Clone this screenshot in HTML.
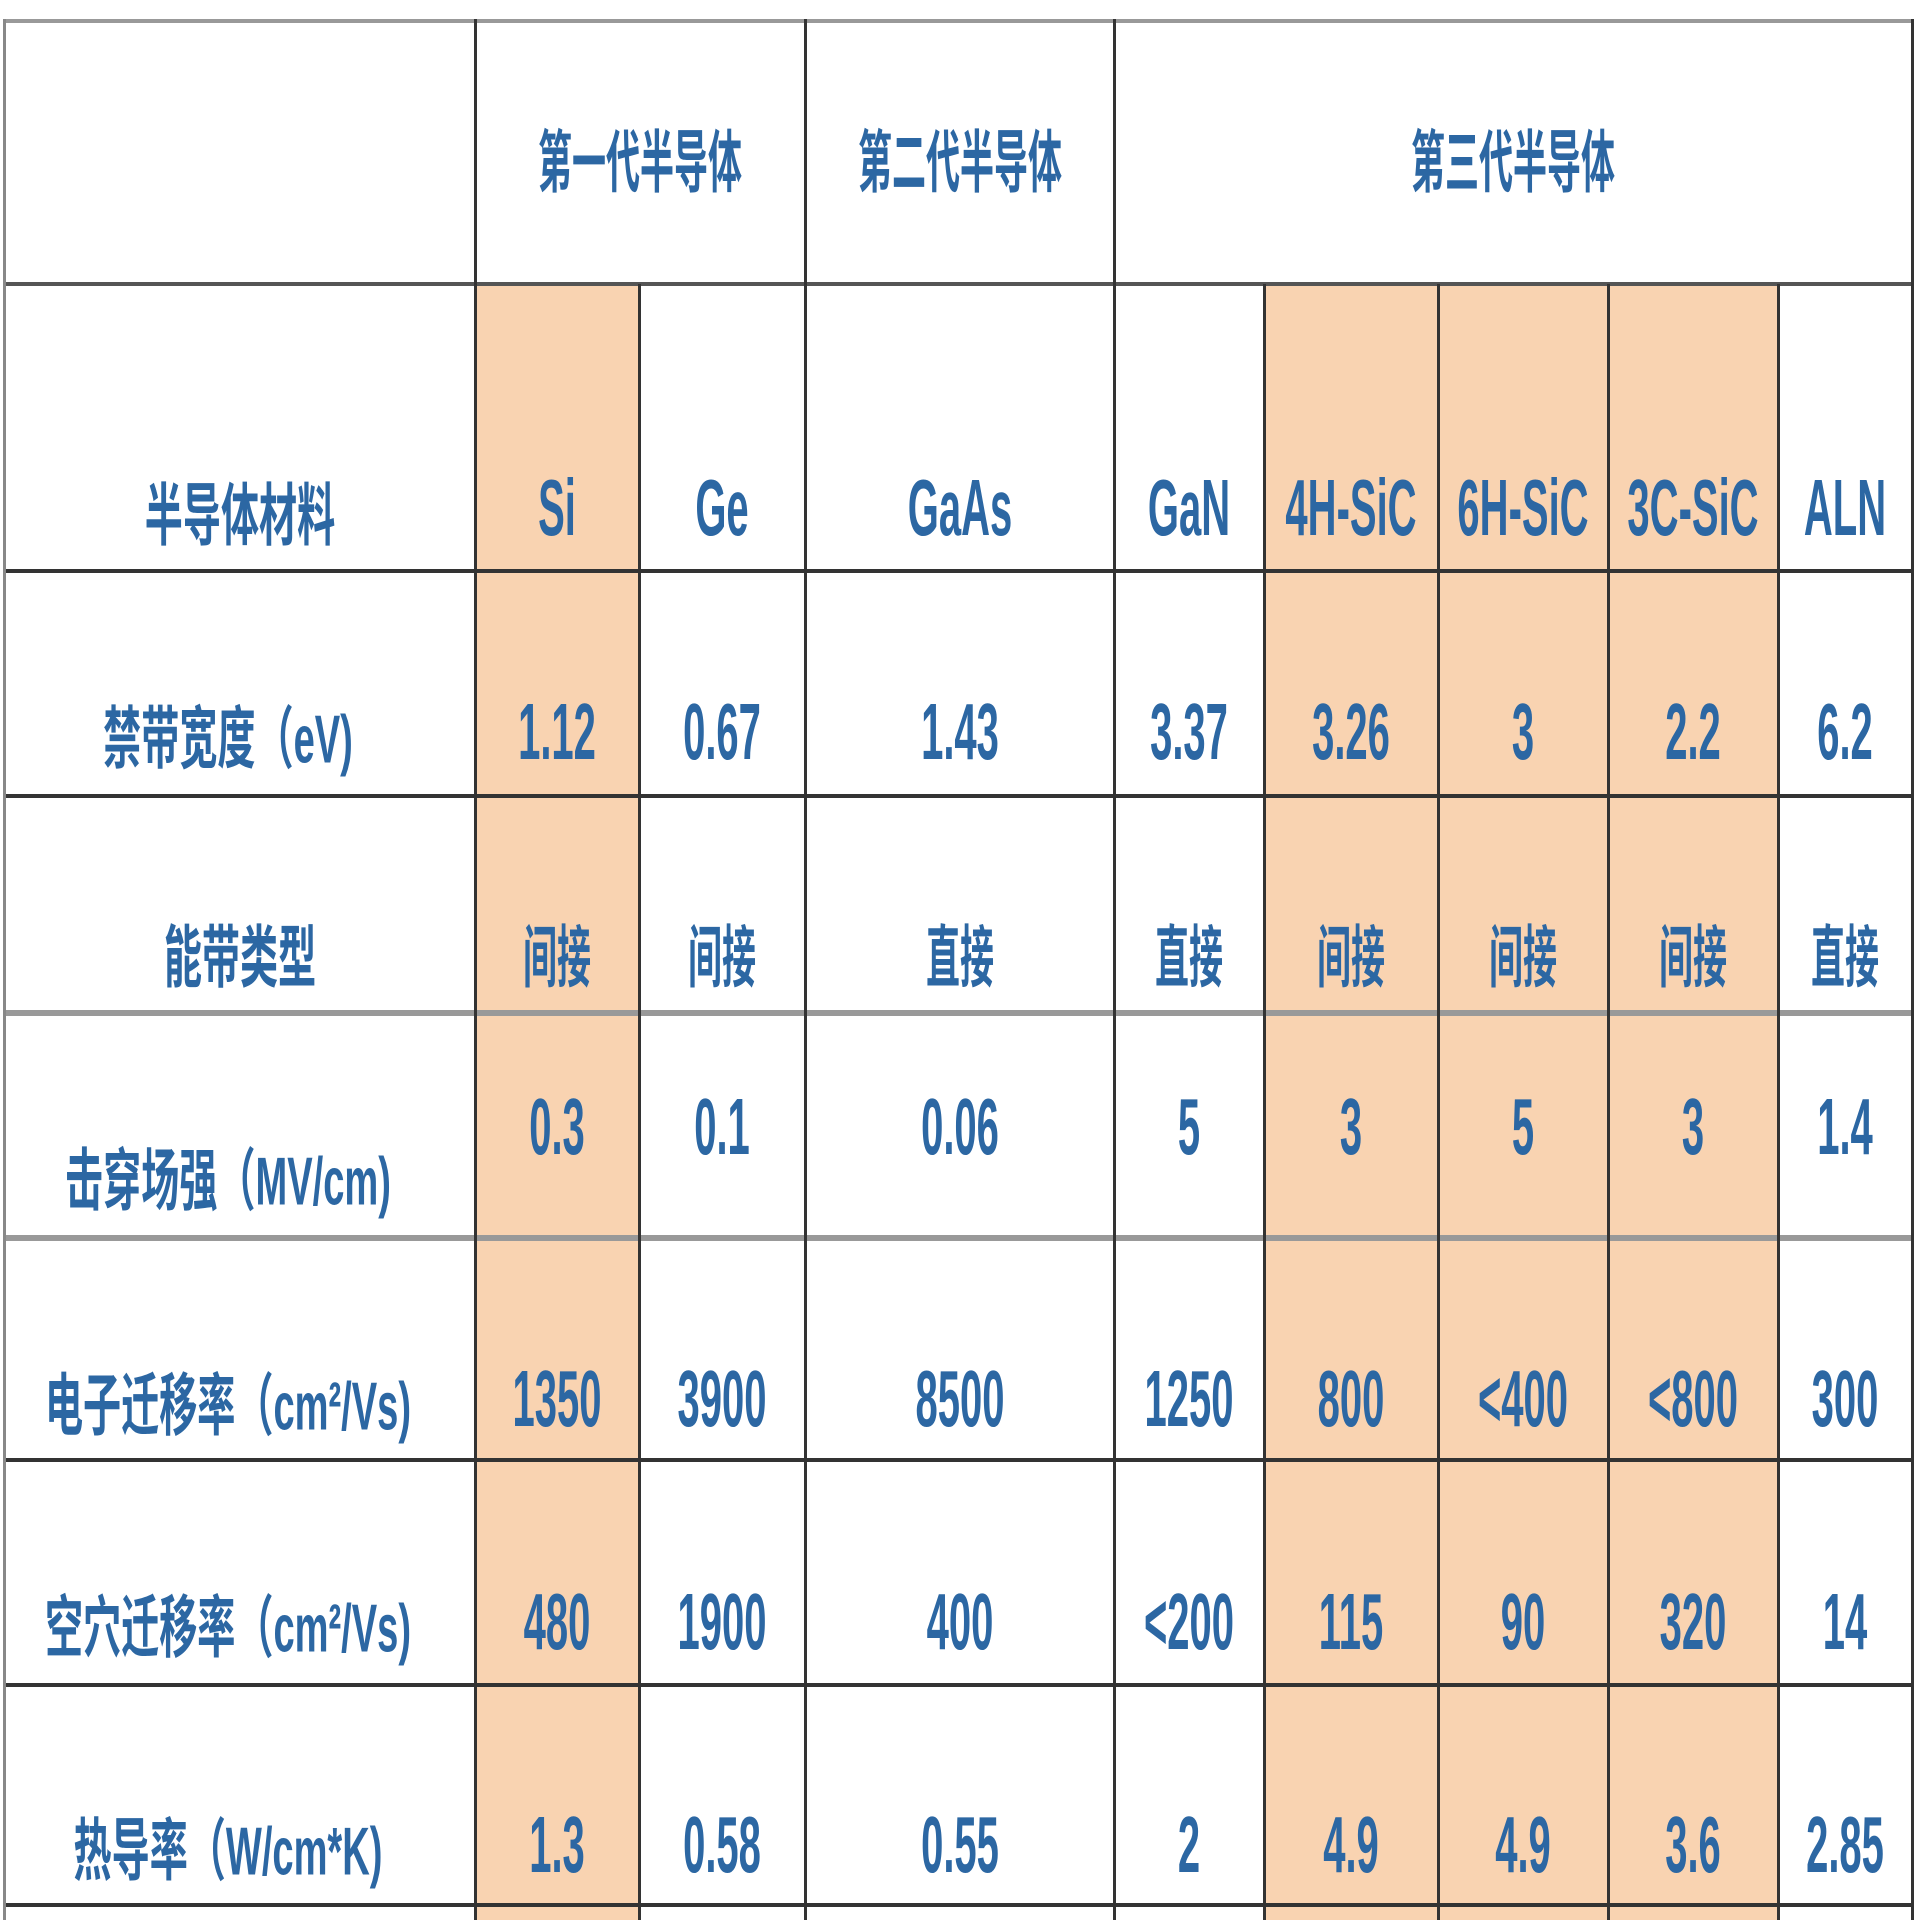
<!DOCTYPE html>
<html><head><meta charset="utf-8"><style>
html,body{margin:0;padding:0;background:#fff;}
#c{position:relative;width:1920px;height:1920px;overflow:hidden;background:#fff;}
.f{position:absolute;background:#f9d3b1;}
.h{position:absolute;height:4px;}
.v{position:absolute;width:3px;background:#333;}
.t{position:absolute;white-space:nowrap;color:#2c67a3;font-weight:bold;transform:translate(-50%,-50%) scaleX(0.5);}
.l{transform:translate(-50%,-50%) scaleX(0.56);}
.n{font-family:"Liberation Sans",sans-serif;font-size:80px;}
.z{font-family:"Liberation Sans","Noto Sans CJK SC",sans-serif;font-size:68px;}
</style></head><body><div id="c">
<div class="f" style="left:475px;top:284px;width:164px;height:1636px"></div>
<div class="f" style="left:1264px;top:284px;width:514px;height:1636px"></div>
<div class="h" style="left:4px;top:19px;width:1910px;background:#999"></div>
<div class="h" style="left:4px;top:282px;width:1910px;background:#555"></div>
<div class="h" style="left:4px;top:569px;width:1910px;background:#333"></div>
<div class="h" style="left:4px;top:794px;width:1910px;background:#333"></div>
<div class="h" style="left:4px;top:1010px;width:1910px;height:6px;background:#999"></div>
<div class="h" style="left:4px;top:1235px;width:1910px;height:6px;background:#999"></div>
<div class="h" style="left:4px;top:1458px;width:1910px;background:#333"></div>
<div class="h" style="left:4px;top:1683px;width:1910px;background:#333"></div>
<div class="h" style="left:4px;top:1903px;width:1910px;background:#333"></div>
<div class="v" style="left:3px;top:19px;height:1901px;background:#888"></div>
<div class="v" style="left:474px;top:19px;height:1901px"></div>
<div class="v" style="left:638px;top:284px;height:1636px"></div>
<div class="v" style="left:804px;top:19px;height:1901px"></div>
<div class="v" style="left:1113px;top:19px;height:1901px"></div>
<div class="v" style="left:1263px;top:284px;height:1636px"></div>
<div class="v" style="left:1437px;top:284px;height:1636px"></div>
<div class="v" style="left:1607px;top:284px;height:1636px"></div>
<div class="v" style="left:1777px;top:284px;height:1636px"></div>
<div class="v" style="left:1911px;top:19px;height:1901px"></div>
<div class="t z" style="left:640px;top:157px">第一代半导体</div>
<div class="t z" style="left:960px;top:157px">第二代半导体</div>
<div class="t z" style="left:1513px;top:157px">第三代半导体</div>
<div class="t z l" style="left:240px;top:510px">半导体材料</div>
<div class="t z l" style="left:228px;top:733px">禁带宽度（eV)</div>
<div class="t z l" style="left:240px;top:952px">能带类型</div>
<div class="t z l" style="left:228px;top:1175px">击穿场强（MV/cm)</div>
<div class="t z l" style="left:228px;top:1400px">电子迁移率（cm²/Vs)</div>
<div class="t z l" style="left:228px;top:1622px">空穴迁移率（cm²/Vs)</div>
<div class="t z l" style="left:228px;top:1845px">热导率（W/cm*K)</div>
<div class="t n" style="left:557px;top:508px">Si</div>
<div class="t n" style="left:722px;top:508px">Ge</div>
<div class="t n" style="left:960px;top:508px">GaAs</div>
<div class="t n" style="left:1189px;top:508px">GaN</div>
<div class="t n" style="left:1351px;top:508px">4H-SiC</div>
<div class="t n" style="left:1523px;top:508px">6H-SiC</div>
<div class="t n" style="left:1693px;top:508px">3C-SiC</div>
<div class="t n" style="left:1845px;top:508px">ALN</div>
<div class="t n" style="left:557px;top:732px">1.12</div>
<div class="t n" style="left:722px;top:732px">0.67</div>
<div class="t n" style="left:960px;top:732px">1.43</div>
<div class="t n" style="left:1189px;top:732px">3.37</div>
<div class="t n" style="left:1351px;top:732px">3.26</div>
<div class="t n" style="left:1523px;top:732px">3</div>
<div class="t n" style="left:1693px;top:732px">2.2</div>
<div class="t n" style="left:1845px;top:732px">6.2</div>
<div class="t z" style="left:557px;top:952px">间接</div>
<div class="t z" style="left:722px;top:952px">间接</div>
<div class="t z" style="left:960px;top:952px">直接</div>
<div class="t z" style="left:1189px;top:952px">直接</div>
<div class="t z" style="left:1351px;top:952px">间接</div>
<div class="t z" style="left:1523px;top:952px">间接</div>
<div class="t z" style="left:1693px;top:952px">间接</div>
<div class="t z" style="left:1845px;top:952px">直接</div>
<div class="t n" style="left:557px;top:1127px">0.3</div>
<div class="t n" style="left:722px;top:1127px">0.1</div>
<div class="t n" style="left:960px;top:1127px">0.06</div>
<div class="t n" style="left:1189px;top:1127px">5</div>
<div class="t n" style="left:1351px;top:1127px">3</div>
<div class="t n" style="left:1523px;top:1127px">5</div>
<div class="t n" style="left:1693px;top:1127px">3</div>
<div class="t n" style="left:1845px;top:1127px">1.4</div>
<div class="t n" style="left:557px;top:1399px">1350</div>
<div class="t n" style="left:722px;top:1399px">3900</div>
<div class="t n" style="left:960px;top:1399px">8500</div>
<div class="t n" style="left:1189px;top:1399px">1250</div>
<div class="t n" style="left:1351px;top:1399px">800</div>
<div class="t n" style="left:1523px;top:1399px">&lt;400</div>
<div class="t n" style="left:1693px;top:1399px">&lt;800</div>
<div class="t n" style="left:1845px;top:1399px">300</div>
<div class="t n" style="left:557px;top:1622px">480</div>
<div class="t n" style="left:722px;top:1622px">1900</div>
<div class="t n" style="left:960px;top:1622px">400</div>
<div class="t n" style="left:1189px;top:1622px">&lt;200</div>
<div class="t n" style="left:1351px;top:1622px">115</div>
<div class="t n" style="left:1523px;top:1622px">90</div>
<div class="t n" style="left:1693px;top:1622px">320</div>
<div class="t n" style="left:1845px;top:1622px">14</div>
<div class="t n" style="left:557px;top:1845px">1.3</div>
<div class="t n" style="left:722px;top:1845px">0.58</div>
<div class="t n" style="left:960px;top:1845px">0.55</div>
<div class="t n" style="left:1189px;top:1845px">2</div>
<div class="t n" style="left:1351px;top:1845px">4.9</div>
<div class="t n" style="left:1523px;top:1845px">4.9</div>
<div class="t n" style="left:1693px;top:1845px">3.6</div>
<div class="t n" style="left:1845px;top:1845px">2.85</div>
</div></body></html>
